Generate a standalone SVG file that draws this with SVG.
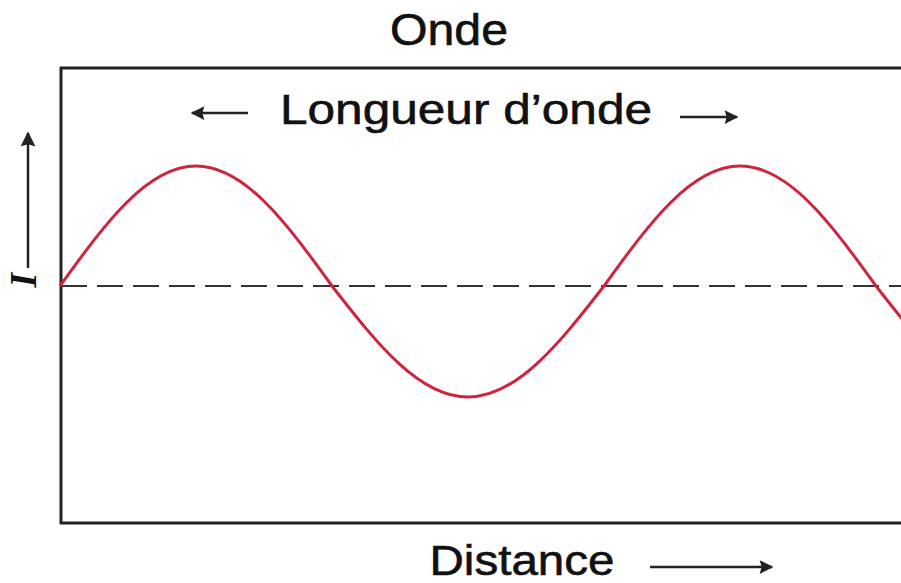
<svg xmlns="http://www.w3.org/2000/svg" width="901" height="583" viewBox="0 0 901 583">
<defs>
<style>
.lbl{font-family:"Liberation Sans",Arial,sans-serif;fill:#111;stroke:#111;stroke-width:0.6;}
.ax{stroke:#222;stroke-width:2.5;fill:none;}
</style>
<marker id="ah" viewBox="0 0 10 10" refX="9" refY="5" markerWidth="6" markerHeight="5.5" orient="auto" markerUnits="strokeWidth"><path d="M0,0 L10,5 L0,10 L1.5,5 Z" fill="#222"/></marker>
<marker id="ahv" viewBox="0 0 10 10" refX="9" refY="5" markerWidth="7.5" markerHeight="6" orient="auto" markerUnits="strokeWidth"><path d="M0,0 L10,5 L0,10 L1.5,5 Z" fill="#222"/></marker>
</defs>
<rect width="901" height="583" fill="#ffffff"/>
<g id="title"><text class="lbl" x="449" y="45" font-size="44" text-anchor="middle" textLength="118" lengthAdjust="spacingAndGlyphs">Onde</text></g>
<g id="frame"><path d="M905,68 L61,68 L61,523 L905,523" fill="none" stroke="#222" stroke-width="3"/></g>
<g id="baseline"><line x1="61" y1="286" x2="901" y2="286" stroke="#333" stroke-width="2" stroke-dasharray="26 10"/></g>
<g id="wave"><path d="M60,286 C104.35,224.5 146.78,166 196,166 C245.22,166 287.65,224.5 332,286 C376.35,342.9 418.78,397 468,397 C517.22,397 559.65,342.9 604,286 C648.35,224.5 690.78,166 740,166 C789.22,166 831.65,224.5 876,286 C920.35,342.9 962.78,397 1012,397" fill="none" stroke="#d0233c" stroke-width="3"/></g>
<g id="wavelength-label">
<text class="lbl" x="466" y="124" font-size="43" text-anchor="middle" textLength="372" lengthAdjust="spacingAndGlyphs">Longueur d’onde</text>
</g>
<g id="distance-label"><text class="lbl" x="522" y="575" font-size="43" text-anchor="middle" textLength="185" lengthAdjust="spacingAndGlyphs">Distance</text></g>
<g id="intensity-label"><text x="36" y="280" transform="rotate(-90 36 280)" font-family="Liberation Serif,'Times New Roman',serif" font-style="italic" font-weight="bold" font-size="38" fill="#111" text-anchor="middle">I</text></g>
<g id="connectors">
<line class="ax" x1="248" y1="113" x2="192" y2="113" marker-end="url(#ah)"/>
<line class="ax" x1="680" y1="117" x2="737" y2="117" marker-end="url(#ah)"/>
<line class="ax" x1="650" y1="567" x2="772" y2="567" marker-end="url(#ah)"/>
<line class="ax" x1="28" y1="268" x2="28" y2="133" marker-end="url(#ahv)"/>
</g>
</svg>
